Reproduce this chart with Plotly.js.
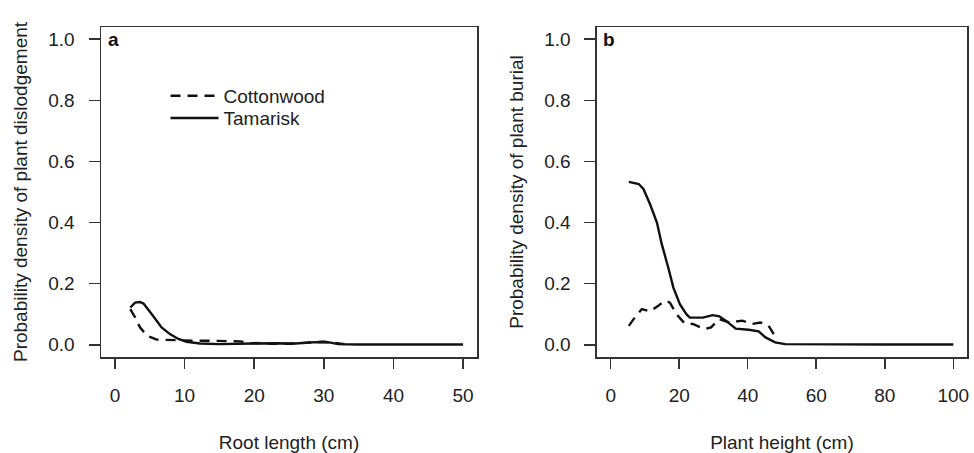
<!DOCTYPE html>
<html>
<head>
<meta charset="utf-8">
<script src="https://cdn.plot.ly/plotly-3.0.1.min.js"></script>
<style>html,body{margin:0;padding:0;background:#fff;}#chart{width:974px;height:453px;}</style>
</head>
<body>
<div id="chart"></div>
<script>
// Panel a: root length (cm) vs probability density of plant dislodgement
const rootCottonX = [2.2, 2.9, 3.6, 4.6, 6.0, 7.4, 8.5, 10, 12, 14, 16, 18, 19.5, 21, 23, 25, 26.5, 28, 30, 31.5, 33];
const rootCottonY = [0.117, 0.09, 0.057, 0.03, 0.017, 0.016, 0.015, 0.013, 0.013, 0.013, 0.013, 0.011, 0.006, 0.004, 0.003, 0.003, 0.005, 0.009, 0.010, 0.006, 0.002];
const rootTamX = [2.2, 2.9, 3.6, 4.1, 5.3, 6.7, 7.9, 9.1, 10.3, 12.2, 15, 18, 20, 23, 26, 28, 30, 31, 32, 35, 40, 45, 50];
const rootTamY = [0.122, 0.138, 0.14, 0.135, 0.10, 0.057, 0.035, 0.019, 0.01, 0.004, 0.002, 0.002, 0.004, 0.005, 0.004, 0.008, 0.009, 0.007, 0.002, 0.001, 0.001, 0.001, 0.001];

// Panel b: plant height (cm) vs probability density of plant burial
const htCottonX = [5.3, 6.7, 9.1, 11.5, 13.9, 15.9, 17.3, 19.2, 21.6, 24.0, 27.4, 29.3, 31.7, 34.6, 38.4, 41.3, 43.7, 46.1, 47.6];
const htCottonY = [0.062, 0.084, 0.117, 0.109, 0.128, 0.144, 0.138, 0.10, 0.07, 0.068, 0.051, 0.057, 0.084, 0.073, 0.079, 0.068, 0.073, 0.062, 0.035];
const htTamX = [5.3, 8.2, 9.6, 11.5, 13.5, 14.9, 16.8, 18.3, 20.2, 22.1, 23.1, 26.9, 29.8, 31.7, 33.6, 36.5, 40.3, 43.2, 45.2, 48.0, 50.9, 60, 70, 80, 90, 100];
const htTamY = [0.533, 0.526, 0.509, 0.46, 0.40, 0.33, 0.253, 0.187, 0.133, 0.10, 0.089, 0.089, 0.097, 0.093, 0.079, 0.053, 0.049, 0.044, 0.024, 0.008, 0.002, 0.001, 0.001, 0.001, 0.001, 0.001];

const seriesNames = ["Cottonwood", "Tamarisk"];
const panelLabels = ["a", "b"];
const xTitles = ["Root length (cm)", "Plant height (cm)"];
const yTitles = ["Probability density of plant dislodgement", "Probability density of plant burial"];
const xTicksA = [0, 10, 20, 30, 40, 50];
const xTicksB = [0, 20, 40, 60, 80, 100];
const yTicks = [0, 0.2, 0.4, 0.6, 0.8, 1.0];

const FONT = "Liberation Sans, Arial, sans-serif";
const dashLine = {color: "#111", width: 2.4, dash: "10px,7px"};
const solidLine = {color: "#111", width: 2.4};

const traces = [
  {x: rootCottonX, y: rootCottonY, mode: "lines", name: seriesNames[0], line: dashLine, xaxis: "x", yaxis: "y", legend: "legend"},
  {x: rootTamX, y: rootTamY, mode: "lines", name: seriesNames[1], line: solidLine, xaxis: "x", yaxis: "y", legend: "legend2"},
  {x: htCottonX, y: htCottonY, mode: "lines", name: seriesNames[0], line: dashLine, xaxis: "x2", yaxis: "y2", showlegend: false},
  {x: htTamX, y: htTamY, mode: "lines", name: seriesNames[1], line: solidLine, xaxis: "x2", yaxis: "y2", showlegend: false}
];

function xax(domain, range, ticks, title, anchor) {
  return {
    domain: domain, range: range, anchor: anchor,
    tickvals: ticks, ticktext: ticks.map(String),
    showline: true, mirror: true, linecolor: "#333", linewidth: 1.5,
    ticks: "outside", ticklen: 10, tickwidth: 1.5, tickcolor: "#333",
    ticklabelstandoff: 11,
    showgrid: false, zeroline: false,
    tickfont: {family: FONT, size: 19, color: "#222"},
    title: {text: title, font: {family: FONT, size: 19, color: "#222"}, standoff: 31}
  };
}
function yax(range, title, anchor) {
  return {
    domain: [0, 1], range: range, anchor: anchor,
    tickvals: yTicks, ticktext: yTicks.map(v => v.toFixed(1)),
    showline: true, mirror: true, linecolor: "#333", linewidth: 1.5,
    ticks: "outside", ticklen: 11, tickwidth: 1.5, tickcolor: "#333",
    ticklabelstandoff: 10,
    showgrid: false, zeroline: false,
    tickfont: {family: FONT, size: 19, color: "#222"},
    title: {text: title, font: {family: FONT, size: 19, color: "#222"}, standoff: 15}
  };
}

function legendAt(yPos) {
  return {
    x: 0.0745, y: yPos, xanchor: "left", yanchor: "middle",
    bgcolor: "rgba(0,0,0,0)", borderwidth: 0,
    font: {family: FONT, size: 19, color: "#222"},
    itemwidth: 48
  };
}

const layout = {
  width: 974, height: 453,
  margin: {l: 101, r: 7, t: 27, b: 96},
  paper_bgcolor: "#fff", plot_bgcolor: "#fff",
  showlegend: true,
  xaxis: xax([0, 0.4342], [-2, 52], xTicksA, xTitles[0], "y"),
  yaxis: yax([-0.04, 1.04], yTitles[0], "x"),
  xaxis2: xax([0.5727, 1], [-4, 104], xTicksB, xTitles[1], "y2"),
  yaxis2: yax([-0.04, 1.04], yTitles[1], "x2"),
  legend: legendAt(0.791),
  legend2: legendAt(0.724),
  annotations: [
    {text: "<b>" + panelLabels[0] + "</b>", xref: "x domain", yref: "y domain", x: 0.012, y: 1.0, xanchor: "left", yanchor: "top", showarrow: false, font: {family: FONT, size: 19, color: "#111"}},
    {text: "<b>" + panelLabels[1] + "</b>", xref: "x2 domain", yref: "y2 domain", x: 0.012, y: 1.0, xanchor: "left", yanchor: "top", showarrow: false, font: {family: FONT, size: 19, color: "#111"}}
  ]
};

Plotly.newPlot("chart", traces, layout, {staticPlot: true, displayModeBar: false});
</script>
</body>
</html>
